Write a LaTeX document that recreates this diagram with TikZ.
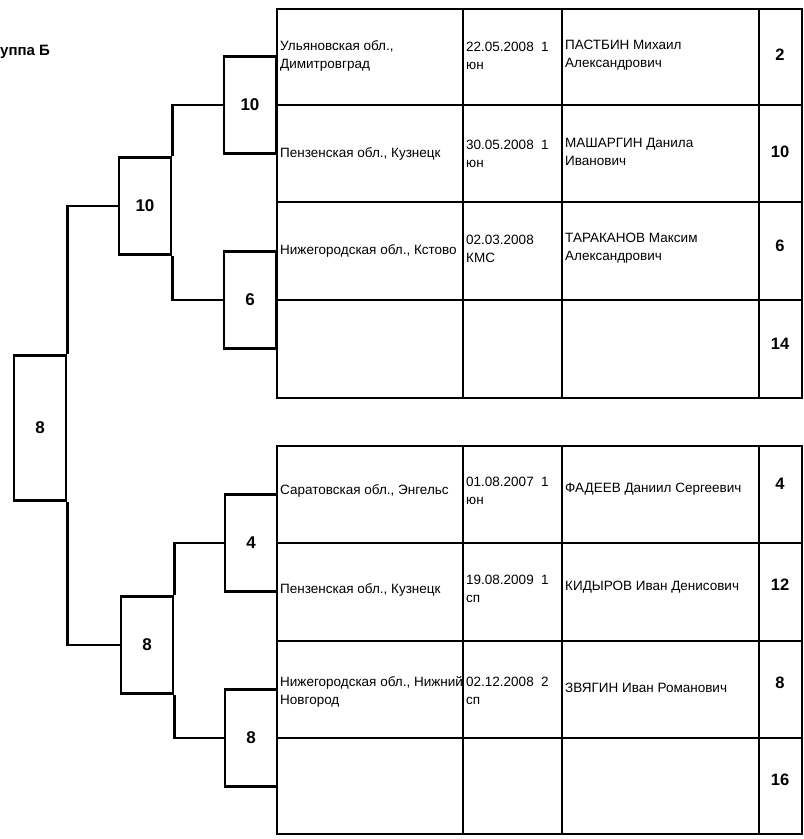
\documentclass[tikz,border=0pt]{standalone}
\usepackage{fontspec}
\setmainfont{Liberation Sans}
\begin{document}
\begin{tikzpicture}[x=1pt,y=-1pt,
  thk/.style={line width=2.9pt},
  thn/.style={line width=1.7pt},
  mbox/.style={draw, line width=2.9pt, minimum width=52pt, minimum height=97pt, inner sep=0pt, font=\fontsize{17}{17}\selectfont\bfseries},
  bigbox/.style={mbox, minimum height=145pt},
  conn/.style={line width=2.9pt},
  cell/.style={anchor=west, align=left, inner sep=0pt, font=\fontsize{13.5}{18.5}\selectfont},
  num/.style={inner sep=0pt, font=\fontsize{16.5}{16.5}\selectfont\bfseries}
]
\useasboundingbox (0,0) rectangle (804,839);

% title
\node[anchor=west, inner sep=0pt, font=\fontsize{15}{15}\selectfont\bfseries] (title) at (0,52) {уппа Б};

% ---------- top table ----------
\draw[thk] (277,9) rectangle (802,398);
\draw[thk] (463,9) -- (463,398);
\draw[thk] (562,9) -- (562,398);
\draw[thk] (759,9) -- (759,398);
\draw[thn] (277,105) -- (802,105);
\draw[thk] (277,202) -- (802,202);
\draw[thn] (277,300) -- (802,300);

\node[cell] (a1r) at (280,56) {Ульяновская обл.,\\Димитровград};
\node[cell] (a1d) at (466,56) {22.05.2008\ \ 1\\юн};
\node[cell] (a1n) at (565,55) {ПАСТБИН Михаил\\Александрович};
\node[num]  (a1s) at (780,55) {2};

\node[cell] (a2r) at (280,154) {Пензенская обл., Кузнецк};
\node[cell] (a2d) at (466,154) {30.05.2008\ \ 1\\юн};
\node[cell] (a2n) at (565,152) {МАШАРГИН Данила\\Иванович};
\node[num]  (a2s) at (780,152) {10};

\node[cell] (a3r) at (280,251) {Нижегородская обл., Кстово};
\node[cell] (a3d) at (466,249) {02.03.2008\\КМС};
\node[cell] (a3n) at (565,248) {ТАРАКАНОВ Максим\\Александрович};
\node[num]  (a3s) at (780,246) {6};

\node[num]  (a4s) at (780,344) {14};

% ---------- bottom table ----------
\draw[thk] (277,446) rectangle (802,834);
\draw[thk] (463,446) -- (463,834);
\draw[thk] (562,446) -- (562,834);
\draw[thk] (759,446) -- (759,834);
\draw[thn] (277,543) -- (802,543);
\draw[thk] (277,641) -- (802,641);
\draw[thn] (277,738) -- (802,738);

\node[cell] (b1r) at (280,491) {Саратовская обл., Энгельс};
\node[cell] (b1d) at (466,491) {01.08.2007\ \ 1\\юн};
\node[cell] (b1n) at (565,489) {ФАДЕЕВ Даниил Сергеевич};
\node[num]  (b1s) at (780,484) {4};

\node[cell] (b2r) at (280,590) {Пензенская обл., Кузнецк};
\node[cell] (b2d) at (466,589) {19.08.2009\ \ 1\\сп};
\node[cell] (b2n) at (565,587) {КИДЫРОВ Иван Денисович};
\node[num]  (b2s) at (780,585) {12};

\node[cell] (b3r) at (280,692) {Нижегородская обл., Нижний\\Новгород};
\node[cell] (b3d) at (466,691) {02.12.2008\ \ 2\\сп};
\node[cell] (b3n) at (565,688) {ЗВЯГИН Иван Романович};
\node[num]  (b3s) at (780,683) {8};

\node[num]  (b4s) at (780,780) {16};

% ---------- bracket ----------
\node[mbox] (m1a) at (250,105) {10};
\node[mbox] (m1b) at (250,300) {6};
\node[mbox] (m1c) at (251,543) {4};
\node[mbox] (m1d) at (251,738) {8};

\node[mbox] (m2a) at (145,206) {10};
\node[mbox] (m2b) at (147,645) {8};

\node[bigbox] (m3) at (40,428) {8};

\draw[conn] (m2a.north east) |- (m1a.west);
\draw[conn] (m2a.south east) |- (m1b.west);
\draw[conn] (m2b.north east) |- (m1c.west);
\draw[conn] (m2b.south east) |- (m1d.west);
\draw[conn] (m3.north east) |- (m2a.west);
\draw[conn] (m3.south east) |- (m2b.west);
\end{tikzpicture}
\end{document}
